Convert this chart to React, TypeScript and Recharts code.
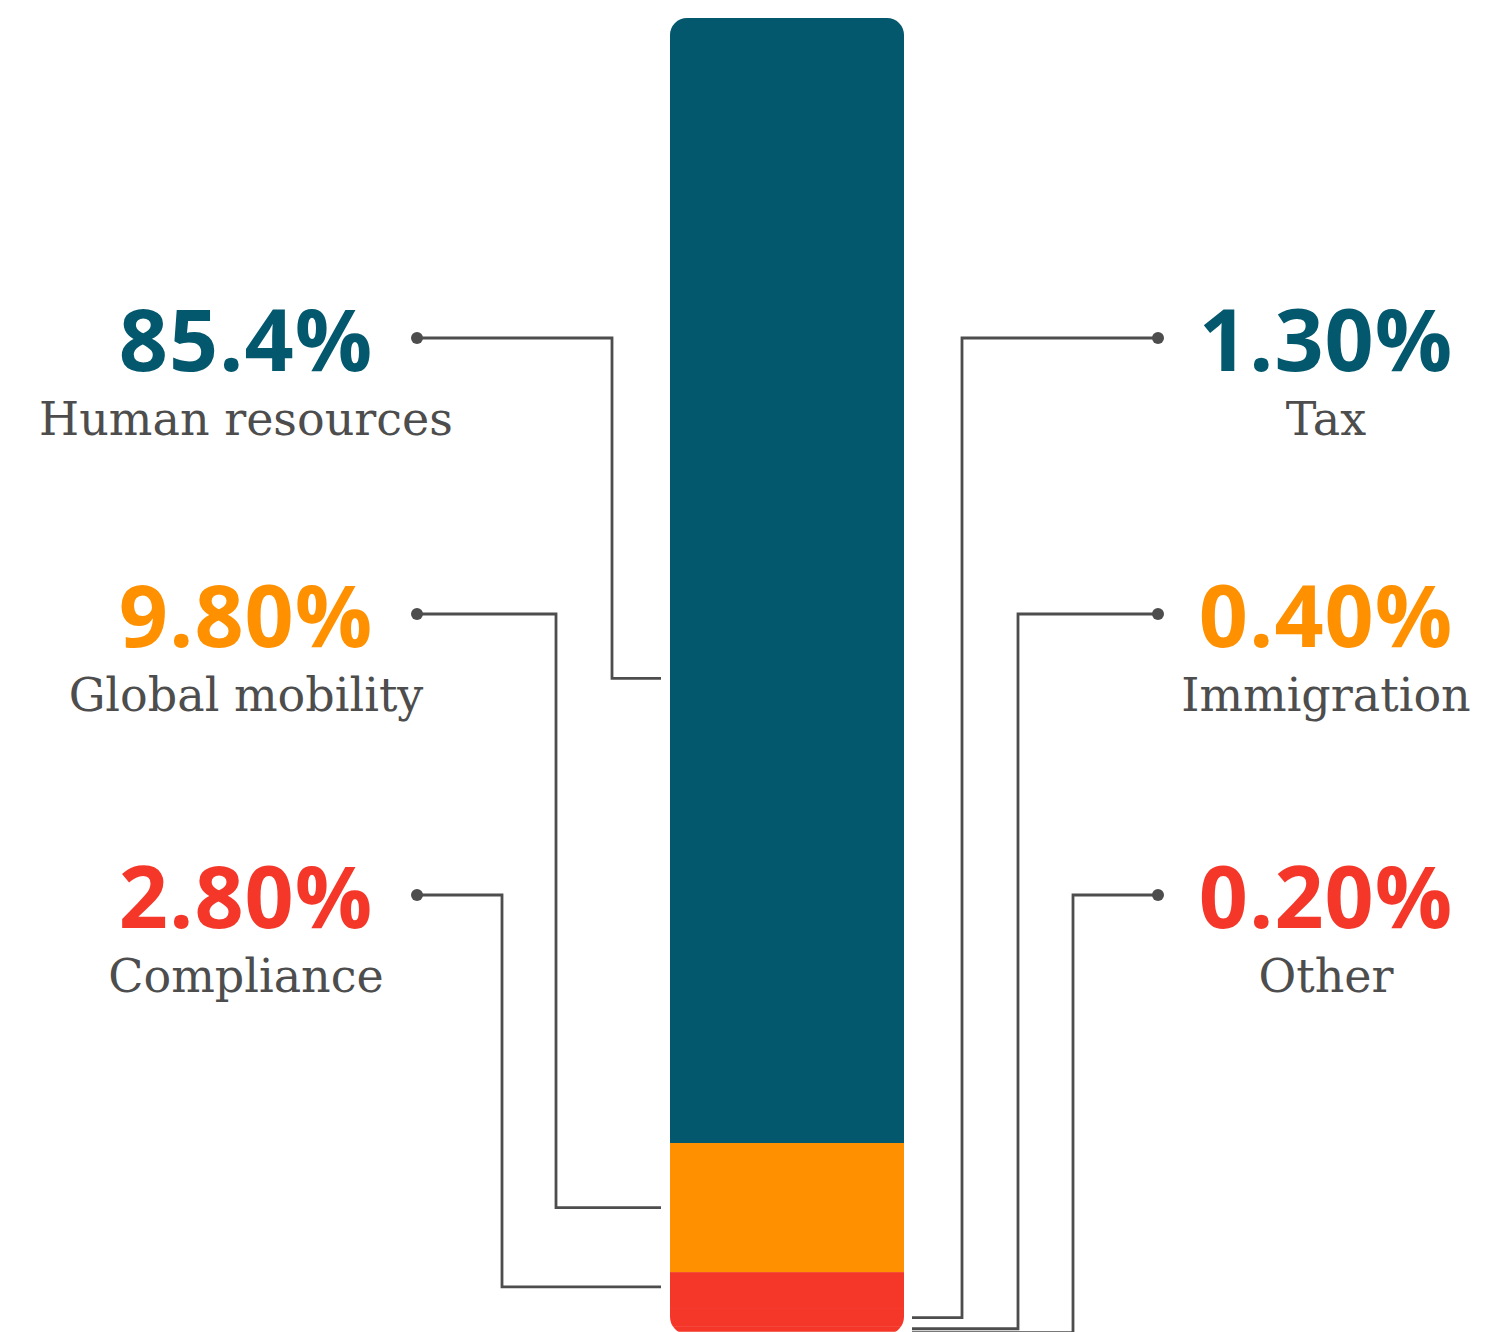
import { BarChart, Bar, XAxis, YAxis } from "recharts";

// share of requests by area, stacked bottom-up in reverse order of the list
const categories = ["Human resources", "Global mobility", "Compliance", "Tax", "Immigration", "Other"];
const shares = [85.4, 9.8, 2.8, 1.3, 0.4, 0.2];
const valueLabels = ["85.4%", "9.80%", "2.80%", "1.30%", "0.40%", "0.20%"];

const TEAL = "#03586e";
const ORANGE = "#ff9000";
const RED = "#f5372a";
const INK = "#4d4d4d";

const labelColors = [TEAL, ORANGE, RED, TEAL, ORANGE, RED];
const barColors = [TEAL, ORANGE, RED, RED, RED, RED];

// layout of the callouts (side, row, elbow x, where on the segment the line lands)
const side = ["left", "left", "left", "right", "right", "right"];
const rowY = [338, 614, 895, 338, 614, 895];
const elbowX = [612, 556, 502, 962, 1018, 1073];
const attach = [0.587, 0.5, 0.4, 0.5, 0.5, 0.5];

const row: Record<string, number | string> = { name: "all" };
categories.forEach((c, i) => (row[c] = shares[i]));
const data = [row];

// bars are stacked bottom-up, so the first category has to be drawn last
const order = categories.map((_, i) => i).reverse();

function Segment(props: any) {
  const { x, y, width, height, fill, background, idx } = props;
  const bg = background || { x, y, width, height };
  const id = `clip-${idx}`;
  return (
    <g>
      <defs>
        <clipPath id={id}>
          <rect x={bg.x} y={bg.y} width={bg.width} height={bg.height} rx={17} ry={17} />
        </clipPath>
      </defs>
      <rect x={x} y={y} width={width} height={height} fill={fill} clipPath={`url(#${id})`} />
    </g>
  );
}

function Callout(props: any) {
  const { x, y, width, height, i } = props;
  const left = side[i] === "left";
  const ya = y + height * attach[i];
  const dotX = left ? 417 : 1158;
  const endX = left ? x - 9 : x + width + 8;
  const textX = left ? 246 : 1326;
  const ry = rowY[i];
  return (
    <g>
      <path
        d={`M${dotX},${ry} H${elbowX[i]} V${ya} H${endX}`}
        fill="none"
        stroke={INK}
        strokeWidth={2.8}
      />
      <circle cx={dotX} cy={ry} r={6} fill={INK} />
      <text
        x={textX}
        y={ry + 33}
        textAnchor="middle"
        fill={labelColors[i]}
        fontFamily="'Open Sans', sans-serif"
        fontWeight={700}
        fontSize={86}
        letterSpacing={1}
      >
        {valueLabels[i]}
      </text>
      <text
        x={textX}
        y={ry + 97}
        textAnchor="middle"
        fill={INK}
        fontFamily="'DejaVu Serif', serif"
        fontSize={46}
      >
        {categories[i]}
      </text>
    </g>
  );
}

export default function App() {
  return (
    <div style={{ position: "absolute", left: 0, top: 0, width: 1487, height: 1332, overflow: "hidden", background: "#fff" }}>
      <BarChart width={1487} height={1336} data={data} margin={{ top: 18, right: 0, left: 87, bottom: 2 }}>
        <XAxis dataKey="name" hide />
        <YAxis hide domain={[0, "dataMax"]} />
        {order.map((i) => (
          <Bar
            key={categories[i]}
            dataKey={categories[i]}
            stackId="a"
            barSize={234}
            fill={barColors[i]}
            isAnimationActive={false}
            shape={(p: any) => <Segment {...p} idx={i} />}
            label={(p: any) => <Callout {...p} i={i} />}
          />
        ))}
      </BarChart>
    </div>
  );
}
